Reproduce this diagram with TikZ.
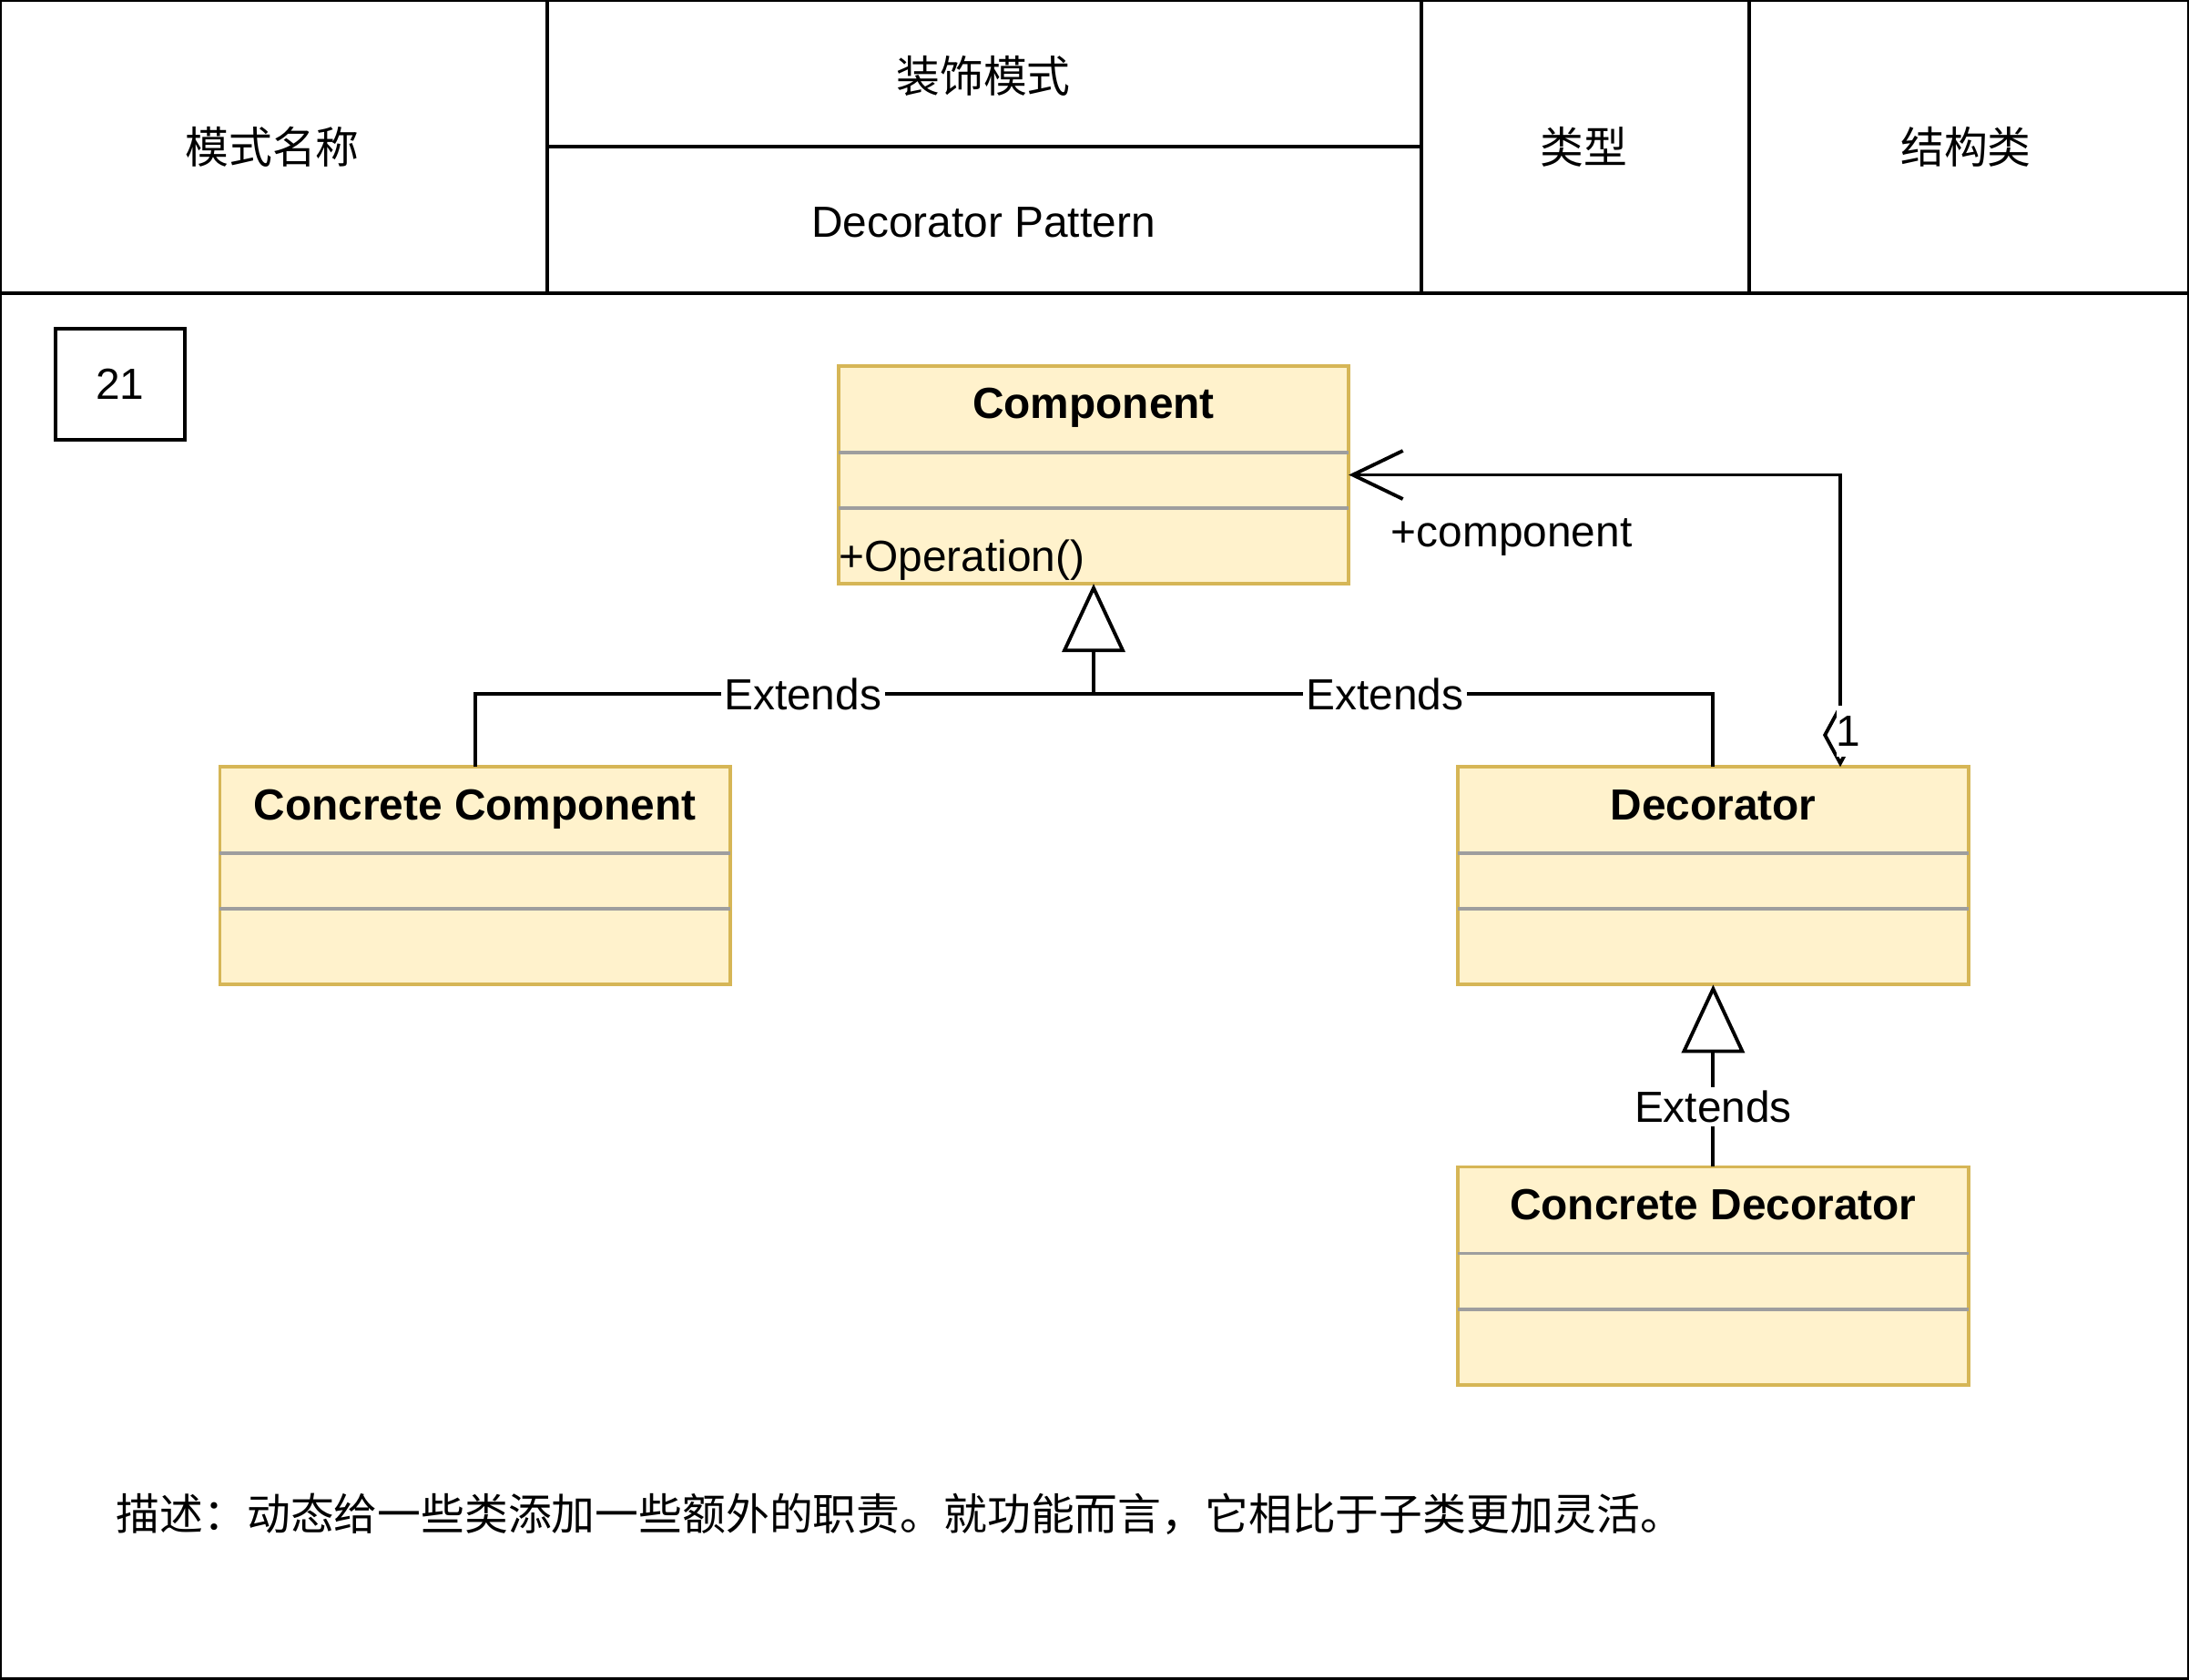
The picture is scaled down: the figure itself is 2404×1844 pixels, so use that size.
\documentclass[tikz,border=0pt]{standalone}
\usepackage{fontspec}
\setmainfont{Liberation Sans}
\newfontfamily\cjk{Noto Sans CJK SC}
\usetikzlibrary{arrows.meta, positioning}
\definecolor{umlfill}{HTML}{FFF2CC}
\definecolor{umledge}{HTML}{D6B656}
\definecolor{umlrule}{HTML}{9E9E9E}

\begin{document}
\begin{tikzpicture}[
    x=0.01cm, y=-0.01cm,
    font=\fontsize{13.6}{16}\selectfont,
    frame/.style={line width=1.3pt},
    cell/.style={line width=1pt},
    umlbox/.style={rectangle, draw=umledge, fill=umlfill, line width=1.1pt, outer sep=0pt, minimum width=5.6cm, minimum height=2.39cm},
    umltitle/.style={font=\fontsize{13.6}{16}\selectfont\bfseries, inner sep=0pt, anchor=base},
    divider/.style={draw=umlrule, line width=1.1pt},
    conn/.style={line width=1.1pt},
    inherit/.style={conn, -{Triangle[open, length=0.75cm, width=0.69cm]}},
    assoc/.style={conn, {Diamond[open, length=0.7cm, width=0.38cm]}-{Straight Barb[length=0.55cm, width=0.53cm]}},
    extlabel/.style={fill=white, inner sep=1pt}
]
\useasboundingbox (0,0) rectangle (2404,1844);

% header table
\draw[frame] (0,0) rectangle (2404,1844);
\draw[frame] (0,322) -- (2404,322);
\draw[frame] (601,161) -- (1561,161);
\draw[cell] (601,0) -- (601,322);
\draw[cell] (1561,0) -- (1561,322);
\draw[cell] (1921,0) -- (1921,322);
\node (hname) at (299,161) {\cjk 模式名称};
\node (hcn) at (1080,83) {\cjk 装饰模式};
\node (hen) at (1080,244) {Decorator Pattern};
\node (htype) at (1739,161) {\cjk 类型};
\node (hkind) at (2159,161) {\cjk 结构类};

\node[draw, line width=1.1pt, minimum width=1.42cm, minimum height=1.22cm] (num) at (132,422) {21};

% classes
\node[umlbox] (comp) at (1201,521.5) {};
\node[umlbox, below left=2.01cm and 1.19cm of comp] (cc) {};
\node[umlbox, below right=2.01cm and 1.2cm of comp] (dec) {};
\node[umlbox, below=2cm of dec] (cd) {};

\node[umltitle] (compname) at ([yshift=-0.58cm]comp.north) {Component};
\node[umltitle] (ccname) at ([yshift=-0.58cm]cc.north) {Concrete Component};
\node[umltitle] (decname) at ([yshift=-0.58cm]dec.north) {Decorator};
\node[umltitle] (cdname) at ([yshift=-0.58cm]cd.north) {Concrete Decorator};
\node[anchor=west, inner sep=0pt] (compop) at ([yshift=0.26cm]comp.south west) {+Operation()};

\draw[divider] ([yshift=-0.95cm]comp.north west) -- ([yshift=-0.95cm]comp.north east);
\draw[divider] ([yshift=-1.56cm]comp.north west) -- ([yshift=-1.56cm]comp.north east);
\draw[divider] ([yshift=-0.95cm]cc.north west) -- ([yshift=-0.95cm]cc.north east);
\draw[divider] ([yshift=-1.56cm]cc.north west) -- ([yshift=-1.56cm]cc.north east);
\draw[divider] ([yshift=-0.95cm]dec.north west) -- ([yshift=-0.95cm]dec.north east);
\draw[divider] ([yshift=-1.56cm]dec.north west) -- ([yshift=-1.56cm]dec.north east);
\draw[divider] ([yshift=-0.95cm]cd.north west) -- ([yshift=-0.95cm]cd.north east);
\draw[divider] ([yshift=-1.56cm]cd.north west) -- ([yshift=-1.56cm]cd.north east);

% relations
\coordinate (joint) at ([yshift=-1.21cm]comp.south);
\draw[inherit] (joint) -- (comp.south);
\draw[conn] (cc.north) |- node[extlabel, pos=0.765] (ext1) {Extends} (joint);
\draw[conn] (dec.north) |- node[extlabel, pos=0.765] (ext2) {Extends} (joint);
\draw[inherit] (cd.north) -- node[extlabel, pos=0.33] (ext3) {Extends} (dec.south);

\draw[assoc] ([xshift=1.395cm]dec.north) |- (comp.east);
\node[anchor=west, inner sep=0pt] (role) at ([xshift=0.46cm, yshift=-0.68cm]comp.east) {+component};
\node[fill=white, inner sep=0pt, minimum width=0.22cm, minimum height=0.56cm] (mult) at (2030,803) {1};

\node[anchor=west, inner sep=0pt] (desc) at (127,1663) {\cjk 描述：动态给一些类添加一些额外的职责。就功能而言，它相比于子类更加灵活。};
\end{tikzpicture}
\end{document}
